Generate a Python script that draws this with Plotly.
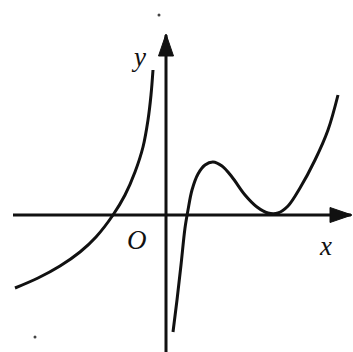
import plotly.graph_objects as go

# Left branch (x < 0): rises toward the asymptote x = 0
left_x = [-15.1, -12.8, -10.6, -8.6, -7.0, -5.3, -4.1, -3.1, -2.3, -1.8, -1.5, -1.3]
left_y = [-7.3, -6.3, -5.1, -3.7, -2.2, 0.0, 2.0, 4.3, 6.8, 9.5, 12.0, 14.5]

# Right branch (x > 0): from far below, local max, touches the x-axis, then rises
right_x = [0.7, 1.1, 1.5, 1.9, 2.2, 2.6, 3.2, 3.9, 4.7, 5.6, 6.6, 7.9, 9.1,
           10.2, 11.2, 12.2, 13.4, 14.9, 16.2, 17.2]
right_y = [-11.7, -8.5, -5.0, -1.3, 0.5, 2.5, 4.1, 5.0, 5.3, 4.9, 3.8, 2.0, 0.8,
           0.2, 0.2, 0.9, 2.7, 5.5, 8.5, 12.0]

# Axis extents
x_axis = [-15.3, 18.5]
y_axis = [-13.7, 18.0]
x_tip, y_tip = 18.6, 18.1

INK = "#111111"
SERIF = "Liberation Serif, DejaVu Serif, serif"

fig = go.Figure()

# coordinate axes
fig.add_trace(go.Scatter(x=x_axis, y=[0, 0], mode="lines",
                         line=dict(color=INK, width=3), hoverinfo="skip"))
fig.add_trace(go.Scatter(x=[0, 0], y=y_axis, mode="lines",
                         line=dict(color=INK, width=3), hoverinfo="skip"))

# curve branches
for xs, ys in ((left_x, left_y), (right_x, right_y)):
    fig.add_trace(go.Scatter(x=xs, y=ys, mode="lines",
                             line=dict(color=INK, width=3, shape="spline", smoothing=1.0),
                             hoverinfo="skip"))

# arrowheads
fig.add_trace(go.Scatter(x=[x_tip, x_tip - 2.2, x_tip - 2.2, x_tip],
                         y=[0, 0.75, -0.75, 0], mode="lines", fill="toself",
                         fillcolor=INK, line=dict(color=INK, width=1), hoverinfo="skip"))
fig.add_trace(go.Scatter(x=[0, -0.75, 0.75, 0],
                         y=[y_tip, y_tip - 2.2, y_tip - 2.2, y_tip], mode="lines", fill="toself",
                         fillcolor=INK, line=dict(color=INK, width=1), hoverinfo="skip"))

# small print specks
fig.add_trace(go.Scatter(x=[-0.7, -13.1], y=[20.0, -12.2], mode="markers",
                         marker=dict(color="#444444", size=3), hoverinfo="skip"))

labels = [("y", -2.8, 15.8), ("O", -2.9, -2.5), ("x", 15.9, -3.1)]
for text, lx, ly in labels:
    fig.add_annotation(x=lx, y=ly, text=f"<i>{text}</i>", showarrow=False,
                       font=dict(family=SERIF, size=27, color=INK))

fig.update_layout(
    width=353, height=352,
    margin=dict(l=0, r=0, t=0, b=0),
    paper_bgcolor="white", plot_bgcolor="white",
    showlegend=False,
    xaxis=dict(range=[-16.6, 18.7], visible=False, fixedrange=True),
    yaxis=dict(range=[-13.7, 21.5], visible=False, fixedrange=True),
)

fig.write_html("out.html")
